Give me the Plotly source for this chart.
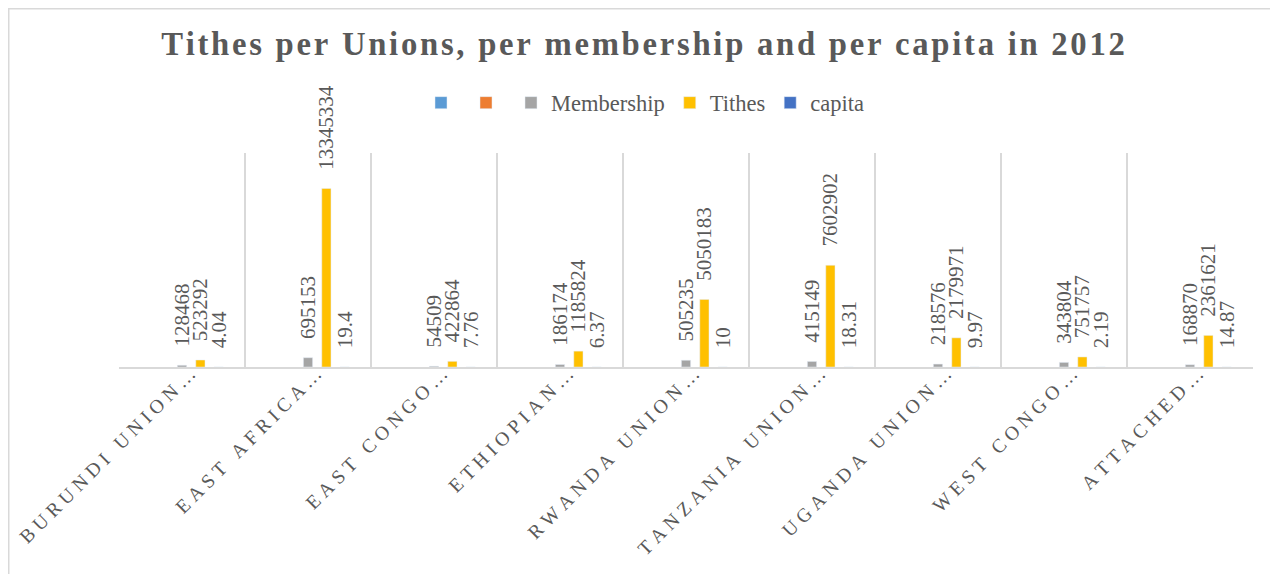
import plotly.graph_objects as go

# data
categories = ["BURUNDI UNION", "EAST AFRICA", "EAST CONGO", "ETHIOPIAN",
              "RWANDA UNION", "TANZANIA UNION", "UGANDA UNION",
              "WEST CONGO", "ATTACHED"]
membership = [128468, 695153, 54509, 186174, 505235, 415149, 218576, 343804, 168870]
tithes = [523292, 13345334, 422864, 1185824, 5050183, 7602902, 2179971, 751757, 2361621]
capita = [4.04, 19.4, 7.76, 6.37, 10, 18.31, 9.97, 2.19, 14.87]
blank = [None] * len(categories)

title_text = "Tithes per Unions, per membership and per capita in 2012"

FONT = "Liberation Serif"
GREY = "#595959"
W, H = 1278, 574
OFF = 8  # page body margin
# plot area: x 119..1253, y 153..367 on the page
L, R, T, B = 119 - OFF, W - (1253 - OFF), 153 - OFF, H - (367 - OFF)


def spaced(s, gap="\u200a"):
    # fake Excel's letter spacing
    return gap.join(s)


def labels(vals, fmt=str):
    pad = "\u00a0\u00a0\u00a0"
    return [pad + fmt(v) for v in vals]


fig = go.Figure()
series = [
    ("", blank, "#5B9BD5", None),
    ("", blank, "#ED7D31", None),
    ("Membership", membership, "#A5A5A5", labels(membership)),
    ("Tithes", tithes, "#FFC000", labels(tithes)),
    ("capita", capita, "#4472C4", labels(capita, lambda v: f"{v:g}")),
]
for name, vals, col, txt in series:
    fig.add_trace(go.Bar(
        x=categories, y=vals, name=name, marker_color=col,
        text=txt, textposition="outside", textangle=-90,
        constraintext="none", cliponaxis=False,
        textfont=dict(family=FONT, size=21, color=GREY),
    ))

plot_w = W - L - R
plot_h = H - T - B

fig.update_layout(
    width=W, height=H,
    margin=dict(l=L, r=R, t=T, b=B, autoexpand=False),
    paper_bgcolor="white", plot_bgcolor="white",
    font=dict(family=FONT, color=GREY),
    barmode="group", bargap=0.27, bargroupgap=0.5,
    title=dict(text=spaced(title_text), xref="container", x=(643 - OFF) / W,
               xanchor="center", yref="container", y=1 - (44 - OFF) / H,
               yanchor="middle",
               font=dict(family=FONT, size=32.7, color=GREY, weight="bold")),
    legend=dict(orientation="h", x=(645 - OFF) / W, xref="container",
                xanchor="center",
                y=(H - B - (103 - OFF)) / plot_h, yanchor="middle",
                font=dict(family=FONT, size=22.5, color=GREY), itemwidth=30,
                traceorder="normal"),
    showlegend=True,
    xaxis=dict(type="category", tickson="boundaries", showgrid=True,
               gridcolor="#D9D9D9", gridwidth=1.5, showline=True,
               linecolor="#D9D9D9", linewidth=1.5, ticks="", tickangle=-45,
               automargin=False, ticklabelstandoff=-14, ticklabelshift=8,
               tickfont=dict(family=FONT, size=19.5, color=GREY),
               # Excel truncates the long union names with an ellipsis
               ticktext=[spaced(c, "\u2005") + " …" for c in categories],
               tickvals=categories),
    yaxis=dict(range=[0, 16e6], visible=False, showgrid=False, automargin=False),
    shapes=[dict(type="rect", xref="paper", yref="paper",
                 x0=-(L - 0.75) / plot_w, x1=1.5,
                 y0=-3, y1=(H - B - 0.75) / plot_h,
                 line=dict(color="#D9D9D9", width=1.5), layer="below")],
)

fig.write_html("out.html")
